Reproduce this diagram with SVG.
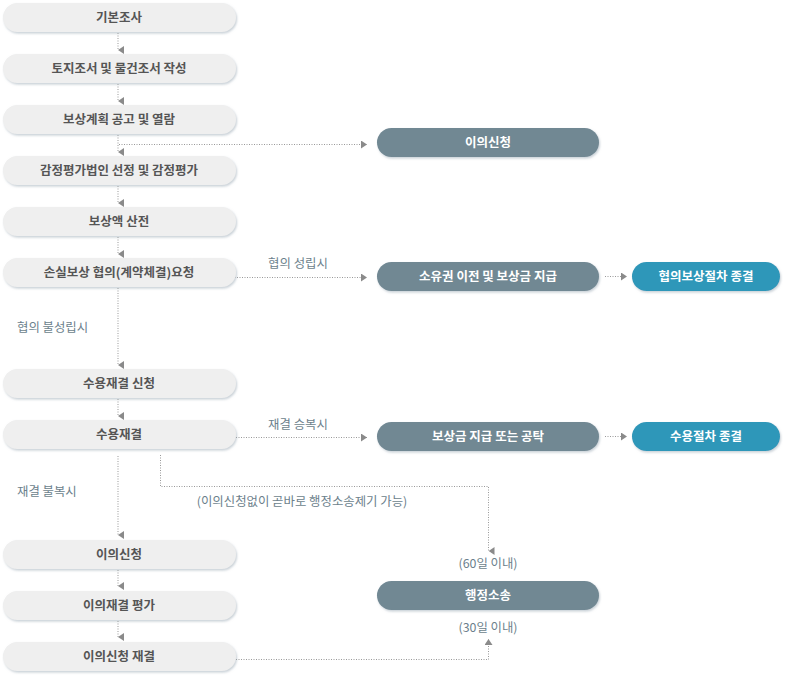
<svg xmlns="http://www.w3.org/2000/svg" width="790" height="675" viewBox="0 0 790 675">
<defs>
<filter id="sh" x="-5%" y="-20%" width="110%" height="160%">
<feDropShadow dx="1" dy="1.5" stdDeviation="1" flood-color="#9aa8b4" flood-opacity="0.55"/>
</filter>
<marker id="ad" viewBox="0 0 8 6" refX="4" refY="6" markerWidth="8" markerHeight="6" markerUnits="userSpaceOnUse" orient="auto-start-reverse">
<path d="M0,0 L8,0 L4,6 Z" fill="#8a8a8a"/>
</marker>
<marker id="ar" viewBox="0 0 6 8" refX="6" refY="4" markerWidth="6" markerHeight="8" markerUnits="userSpaceOnUse">
<path d="M0,0 L6,4 L0,8 Z" fill="#8a8a8a"/>
</marker>
<marker id="au" viewBox="0 0 8 6" refX="4" refY="0" markerWidth="8" markerHeight="6" markerUnits="userSpaceOnUse">
<path d="M0,6 L8,6 L4,0 Z" fill="#8a8a8a"/>
</marker>
</defs>
<style>
text{font-family:"Noto Sans CJK KR","Noto Sans",sans-serif;}
.lb rect{fill:#efefef;filter:url(#sh);}
.lb text{fill:#555;font-size:12.5px;font-weight:bold;text-anchor:middle;}
.db rect{fill:#718893;filter:url(#sh);}
.tb rect{fill:#2e97b9;filter:url(#sh);}
.db text,.tb text{fill:#fff;font-size:12.5px;font-weight:bold;text-anchor:middle;}
.c path{fill:none;stroke:#999;stroke-width:1;stroke-dasharray:1 1.5;}
.lab{fill:#6c7f8c;font-size:12.4px;}
</style>
<g class="c" id="connectors">
<path d="M118,33 V50" marker-end="url(#ad)"/>
<path d="M118,84 V101" marker-end="url(#ad)"/>
<path d="M118,135 V152" marker-end="url(#ad)"/>
<path d="M119,144.5 H367" marker-end="url(#ar)"/>
<path d="M118,186 V203" marker-end="url(#ad)"/>
<path d="M118,237 V254" marker-end="url(#ad)"/>
<path d="M192,277.5 H367" marker-end="url(#ar)"/>
<path d="M605,276.5 H627" marker-end="url(#ar)"/>
<path d="M118,288 V365" marker-end="url(#ad)"/>
<path d="M118,399 V416" marker-end="url(#ad)"/>
<path d="M236,437.5 H367" marker-end="url(#ar)"/>
<path d="M605,436.5 H627" marker-end="url(#ar)"/>
<path d="M118,456 V535" marker-end="url(#ad)"/>
<path d="M160.5,455 V486.5 H488.5 V551" marker-end="url(#ad)"/>
<path d="M118,570 V586" marker-end="url(#ad)"/>
<path d="M118,621 V637" marker-end="url(#ad)"/>
<path d="M236,659.5 H488.5 V639" marker-end="url(#au)"/>
</g>
<text class="lab" x="298" y="268" text-anchor="middle">협의 성립시</text>
<text class="lab" x="17" y="332">협의 불성립시</text>
<text class="lab" x="298" y="429" text-anchor="middle">재결 승복시</text>
<text class="lab" x="17" y="496">재결 불복시</text>
<text class="lab" x="302" y="506" text-anchor="middle">(이의신청없이 곧바로 행정소송제기 가능)</text>
<text class="lab" x="488" y="568" text-anchor="middle">(60일 이내)</text>
<text class="lab" x="488" y="632" text-anchor="middle">(30일 이내)</text>
<g class="lb" id="n1"><rect x="3" y="3" width="233" height="29" rx="14.5"/><text x="119" y="22">기본조사</text></g>
<g class="lb" id="n2"><rect x="3" y="54" width="233" height="29" rx="14.5"/><text x="119" y="73">토지조서 및 물건조서 작성</text></g>
<g class="lb" id="n3"><rect x="3" y="105" width="233" height="29" rx="14.5"/><text x="119" y="124">보상계획 공고 및 열람</text></g>
<g class="lb" id="n4"><rect x="3" y="156" width="233" height="29" rx="14.5"/><text x="119" y="175">감정평가법인 선정 및 감정평가</text></g>
<g class="lb" id="n5"><rect x="3" y="207" width="233" height="29" rx="14.5"/><text x="119" y="226">보상액 산전</text></g>
<g class="lb" id="n6"><rect x="3" y="258" width="233" height="29" rx="14.5"/><text x="119" y="277">손실보상 협의(계약체결)요청</text></g>
<g class="lb" id="n7"><rect x="3" y="369" width="233" height="29" rx="14.5"/><text x="119" y="388">수용재결 신청</text></g>
<g class="lb" id="n8"><rect x="3" y="420" width="233" height="29" rx="14.5"/><text x="119" y="439">수용재결</text></g>
<g class="lb" id="n9"><rect x="3" y="540" width="233" height="29" rx="14.5"/><text x="119" y="559">이의신청</text></g>
<g class="lb" id="n10"><rect x="3" y="591" width="233" height="29" rx="14.5"/><text x="119" y="610">이의재결 평가</text></g>
<g class="lb" id="n11"><rect x="3" y="642" width="233" height="29" rx="14.5"/><text x="119" y="661">이의신청 재결</text></g>
<g class="db" id="r1"><rect x="377" y="128" width="222" height="29" rx="14.5"/><text x="488" y="147">이의신청</text></g>
<g class="db" id="r2"><rect x="377" y="262" width="222" height="29" rx="14.5"/><text x="488" y="281">소유권 이전 및 보상금 지급</text></g>
<g class="tb" id="t1"><rect x="632" y="262" width="148" height="29" rx="14.5"/><text x="706" y="281">협의보상절차 종결</text></g>
<g class="db" id="r3"><rect x="377" y="422" width="222" height="29" rx="14.5"/><text x="488" y="441">보상금 지급 또는 공탁</text></g>
<g class="tb" id="t2"><rect x="632" y="422" width="148" height="29" rx="14.5"/><text x="706" y="441">수용절차 종결</text></g>
<g class="db" id="r4"><rect x="377" y="581" width="222" height="29" rx="14.5"/><text x="488" y="600">행정소송</text></g>
</svg>
